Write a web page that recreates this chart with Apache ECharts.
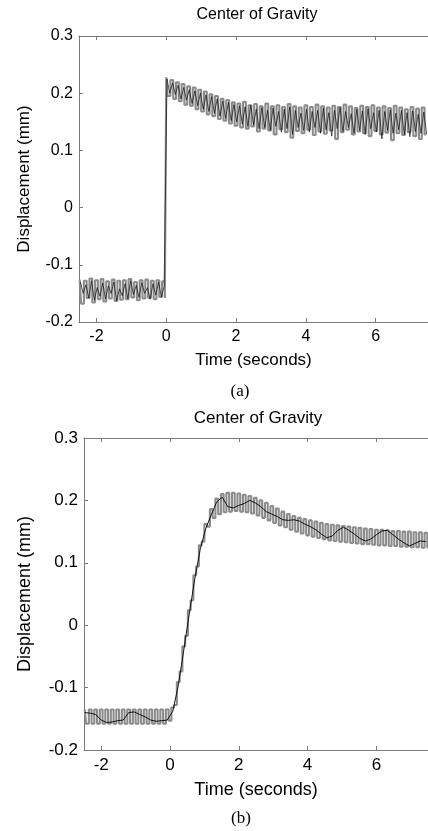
<!DOCTYPE html>
<html>
<head>
<meta charset="utf-8">
<script src="https://cdn.jsdelivr.net/npm/echarts@6/dist/echarts.min.js"></script>
<style>
html,body{margin:0;padding:0;background:#fff;}
#c{width:428px;height:831px;}
</style>
</head>
<body>
<div id="c"></div>
<script>
// ---------- data ----------
var xTicks = [-2, 0, 2, 4, 6];
var yTicks = [-0.2, -0.1, 0, 0.1, 0.2, 0.3];
var cycle = 0.16;            // seconds per oscillation cycle (upper then lower sample)

// (a) before the step: samples start at -2.48
var aPreStart = -2.48;
var aPreUpper = [-0.126,-0.128,-0.124,-0.127,-0.125,-0.129,-0.126,-0.128,-0.127,-0.125,-0.130,-0.127,-0.126,-0.128,-0.127,-0.129];
var aPreLower = [-0.168,-0.158,-0.166,-0.160,-0.164,-0.159,-0.163,-0.161,-0.160,-0.157,-0.162,-0.159,-0.158,-0.160,-0.156,-0.158];
// (a) after the step: samples start at 0
var aPostStart = 0.0;
var aPostUpper = [0.228,0.223,0.219,0.216,0.212,0.210,0.206,0.203,0.198,0.195,0.190,0.188,0.184,0.182,0.185,0.179,0.181,0.177,0.182,0.177,0.179,0.176,0.181,0.177,0.175,0.179,0.176,0.180,0.177,0.175,0.178,0.176,0.180,0.177,0.174,0.178,0.176,0.179,0.175,0.177,0.174,0.178,0.175,0.172,0.176,0.173,0.175];
var aPostLower = [0.195,0.190,0.186,0.180,0.178,0.172,0.168,0.163,0.160,0.155,0.152,0.147,0.143,0.140,0.138,0.142,0.133,0.138,0.135,0.128,0.137,0.132,0.122,0.134,0.130,0.136,0.127,0.133,0.129,0.135,0.120,0.132,0.136,0.128,0.133,0.130,0.125,0.134,0.128,0.131,0.118,0.130,0.127,0.132,0.125,0.120,0.128];
// (a) black trace, one sample every half cycle
var aPreBlackStart = -2.46;
var aPreBlack = [-0.130,-0.150,-0.135,-0.158,-0.128,-0.162,-0.140,-0.155,-0.132,-0.160,-0.137,-0.150,-0.130,-0.163,-0.142,-0.154,-0.133,-0.159,-0.128,-0.152,-0.136,-0.157,-0.131,-0.150,-0.140,-0.160,-0.133,-0.153,-0.130,-0.156,-0.138];
var aPostBlackStart = 0.02;
var aPostBlack = [0.225,0.200,0.218,0.198,0.214,0.190,0.210,0.188,0.206,0.182,
  0.204,0.178,0.200,0.172,0.197,0.168,0.194,0.165,0.190,0.160,
  0.186,0.156,0.184,0.152,0.180,0.150,0.178,0.146,0.176,0.142,
  0.179,0.145,0.172,0.138,0.175,0.140,0.170,0.135,0.174,0.142,
  0.168,0.132,0.172,0.138,0.176,0.128,0.170,0.140,0.165,0.135,
  0.172,0.132,0.168,0.140,0.170,0.130,0.174,0.136,0.166,0.125,
  0.170,0.138,0.175,0.133,0.168,0.140,0.164,0.130,0.172,0.135,
  0.169,0.128,0.173,0.138,0.166,0.132,0.170,0.120,0.168,0.135,
  0.171,0.130,0.165,0.136,0.170,0.128,0.166,0.124,0.169,0.133,
  0.163,0.130,0.167,0.128];

// (b) samples start at -2.48
var bStart = -2.48;
var bUpper = [-0.135,-0.135,-0.135,-0.135,-0.135,-0.135,-0.135,-0.135,-0.135,-0.135,-0.135,-0.135,-0.135,-0.135,-0.135,-0.135,
  -0.132,-0.091,-0.034,0.024,0.080,0.128,0.162,0.186,0.203,0.210,0.212,0.212,0.211,0.209,0.207,0.204,0.200,0.196,0.191,0.187,0.182,0.178,0.175,0.172,0.170,0.168,0.166,0.164,0.162,0.161,0.160,0.159,0.158,0.157,0.156,0.155,0.154,0.153,0.153,0.152,0.151,0.151,0.150,0.150,0.149,0.149,0.148];
var bLower = [-0.158,-0.158,-0.158,-0.158,-0.158,-0.158,-0.158,-0.158,-0.158,-0.158,-0.158,-0.158,-0.158,-0.158,-0.158,-0.153,
  -0.128,-0.074,-0.017,0.040,0.094,0.134,0.158,0.172,0.178,0.181,0.182,0.183,0.182,0.181,0.179,0.176,0.172,0.168,0.164,0.160,0.157,0.153,0.150,0.147,0.144,0.142,0.140,0.138,0.136,0.135,0.134,0.133,0.132,0.131,0.130,0.130,0.129,0.128,0.128,0.127,0.127,0.126,0.126,0.125,0.125,0.124,0.124];
var bMean = [-0.140,-0.141,-0.143,-0.152,-0.156,-0.155,-0.153,-0.152,-0.140,-0.139,-0.143,-0.147,-0.152,-0.154,-0.153,-0.152,
  -0.138,-0.097,-0.040,0.018,0.074,0.122,0.155,0.177,0.198,0.205,0.190,0.188,0.192,0.195,0.200,0.196,0.190,0.182,0.178,0.174,0.169,0.168,0.169,0.167,0.162,0.158,0.153,0.146,0.140,0.143,0.152,0.157,0.152,0.146,0.139,0.135,0.138,0.145,0.151,0.152,0.145,0.138,0.132,0.127,0.131,0.135,0.134];

// ---------- build series data from the arrays ----------
function zig(start, ups, los) {
  var out = [];
  for (var i = 0; i < ups.length; i++) {
    out.push([start + i * cycle, ups[i]]);
    out.push([start + i * cycle + cycle / 2, los[i]]);
  }
  return out;
}
function pts(start, step, vals) {
  return vals.map(function (v, i) { return [start + i * step, v]; });
}
var aGray = zig(aPreStart, aPreUpper, aPreLower).concat(zig(aPostStart, aPostUpper, aPostLower));
var aBlack = pts(aPreBlackStart, cycle / 2, aPreBlack).concat(pts(aPostBlackStart, cycle / 2, aPostBlack));
var bGray = zig(bStart, bUpper, bLower);
var bBlack = pts(bStart, cycle, bMean);

var AX = '#7a7a7a';
var FONT = 'Liberation Sans, Arial, sans-serif';

function xAxes(gi, fs, nameGap) {
  return [{
    type: 'value', gridIndex: gi, min: -2.5, max: 7.5, position: 'bottom',
    name: 'Time (seconds)', nameLocation: 'middle', nameGap: nameGap,
    nameTextStyle: { fontFamily: FONT, fontSize: fs + 1, color: '#000' },
    axisLine: { show: true, onZero: false, lineStyle: { color: AX, width: 1 } },
    axisTick: { show: true, inside: true, length: 4, lineStyle: { color: AX }, customValues: xTicks },
    axisLabel: { show: true, customValues: xTicks, fontFamily: FONT, fontSize: fs, color: '#000', margin: 7 },
    splitLine: { show: false }
  }, {
    type: 'value', gridIndex: gi, min: -2.5, max: 7.5, position: 'top',
    axisLine: { show: true, onZero: false, lineStyle: { color: AX, width: 1 } },
    axisTick: { show: true, inside: true, length: 4, lineStyle: { color: AX }, customValues: xTicks },
    axisLabel: { show: false },
    splitLine: { show: false }
  }];
}
function yAxis(gi, fs, nameGap) {
  return {
    type: 'value', gridIndex: gi, min: -0.2, max: 0.3,
    name: 'Displacement (mm)', nameLocation: 'middle', nameGap: nameGap, nameRotate: 90,
    nameTextStyle: { fontFamily: FONT, fontSize: fs + 1, color: '#000' },
    axisLine: { show: true, onZero: false, lineStyle: { color: AX, width: 1 } },
    axisTick: { show: true, inside: true, length: 4, lineStyle: { color: AX }, customValues: yTicks },
    axisLabel: { show: true, customValues: yTicks, fontFamily: FONT, fontSize: fs, color: '#000', margin: 6,
      formatter: function (v) { return String(+(+v).toFixed(1)); } },
    splitLine: { show: false }
  };
}

var chart = echarts.init(document.getElementById('c'), null, { renderer: 'canvas' });
chart.setOption({
  animation: false,
  backgroundColor: '#fff',
  grid: [
    { left: 79, top: 36, width: 357.5, height: 286 },
    { left: 84, top: 438, width: 350.7, height: 312 }
  ],
  xAxis: xAxes(0, 16, 30).concat(xAxes(1, 17, 31)),
  yAxis: [yAxis(0, 16, 46), yAxis(1, 17, 50)],
  graphic: [
    { type: 'text', x: 257, y: 15, style: { text: 'Center of Gravity', font: '16px ' + FONT, fill: '#000', textAlign: 'center', textVerticalAlign: 'middle' } },
    { type: 'text', x: 240, y: 392, style: { text: '(a)', font: '17px "Liberation Serif", "Times New Roman", serif', fill: '#000', textAlign: 'center', textVerticalAlign: 'middle' } },
    { type: 'text', x: 258, y: 418, style: { text: 'Center of Gravity', font: '17px ' + FONT, fill: '#000', textAlign: 'center', textVerticalAlign: 'middle' } },
    { type: 'text', x: 241, y: 819, style: { text: '(b)', font: '17px "Liberation Serif", "Times New Roman", serif', fill: '#000', textAlign: 'center', textVerticalAlign: 'middle' } }
  ],
  series: [
    { type: 'line', xAxisIndex: 0, yAxisIndex: 0, data: aGray, step: 'middle', showSymbol: false, lineStyle: { color: '#8c8c8c', width: 2.1 }, clip: true, z: 2 },
    { type: 'line', xAxisIndex: 0, yAxisIndex: 0, data: aBlack, showSymbol: false, lineStyle: { color: '#111', width: 0.7 }, clip: true, z: 3 },
    { type: 'line', xAxisIndex: 2, yAxisIndex: 1, data: bGray, step: 'middle', showSymbol: false, lineStyle: { color: '#8c8c8c', width: 2.1 }, clip: true, z: 2 },
    { type: 'line', xAxisIndex: 2, yAxisIndex: 1, data: bBlack, showSymbol: false, lineStyle: { color: '#000', width: 0.9 }, clip: true, z: 3 }
  ]
});
</script>
</body>
</html>
